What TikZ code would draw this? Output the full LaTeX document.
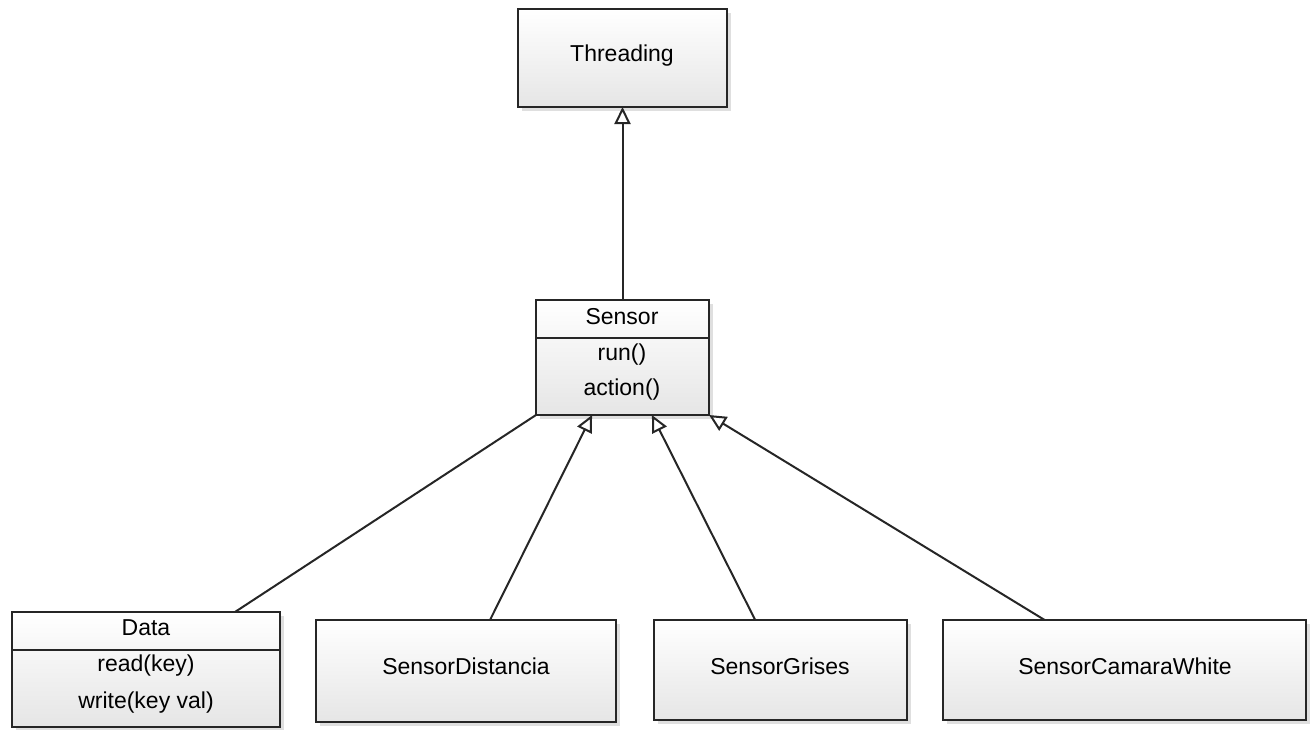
\documentclass[tikz,border=0pt]{standalone}
\usepackage{fontspec}
\setmainfont{Liberation Sans}
\usetikzlibrary{arrows.meta,shadows,calc}
\begin{document}
\begin{tikzpicture}[x=0.5pt,y=-0.5pt,
  cls/.style={draw=black!85, line width=1.1pt, top color=white, bottom color=black!10,
    drop shadow={opacity=0.25, shadow xshift=2pt, shadow yshift=-2pt},
    inner sep=0pt, outer sep=0pt, anchor=north west},
  lbl/.style={font=\fontsize{11.5}{13}\selectfont, inner sep=1pt},
  inherit/.style={draw=black!85, line width=1pt, -{Triangle[open, length=8.5pt, width=8pt, fill=white]}},
  assoc/.style={draw=black!85, line width=1pt}
]
\useasboundingbox (0,0) rectangle (1312,729);
% Threading
\node[cls, minimum width=104.5pt, minimum height=49pt] (threading) at (518,9) {};
\node[lbl] (threadingt) at (622,56) {Threading};
% Sensor
\node[cls, minimum width=86.5pt, minimum height=57.5pt] (sensor) at (536,300) {};
\draw[line width=1.1pt, black!85] (sensor.west |- 0,338) coordinate (sdl) -- (sensor.east |- 0,338) coordinate (sdr);
\node[lbl] (sensorname) at (622,317) {Sensor};
\node[lbl] (sensorrun) at (622,355) {run()};
\node[lbl] (sensoraction) at (622,390) {action()};
% Data
\node[cls, minimum width=134pt, minimum height=57.5pt] (data) at (12,612) {};
\draw[line width=1.1pt, black!85] (data.west |- 0,650) coordinate (ddl) -- (data.east |- 0,650) coordinate (ddr);
\node[lbl] (dataname) at (146,628) {Data};
\node[lbl] (dataread) at (146,666) {read(key)};
\node[lbl] (datawrite) at (146,703) {write(key val)};
% Sensors
\node[cls, minimum width=150pt, minimum height=51pt] (dist) at (316,620) {};
\node[lbl] (distt) at (466,666) {SensorDistancia};
\node[cls, minimum width=126.5pt, minimum height=50pt] (grises) at (654,620) {};
\node[lbl] (grisest) at (780,666) {SensorGrises};
\node[cls, minimum width=181.5pt, minimum height=50pt] (camara) at (943,620) {};
\node[lbl] (camarat) at (1125,666) {SensorCamaraWhite};
% connectors
\draw[inherit] (sensor.north) -- (threading.south);
\draw[assoc] ($(data.north west)!0.832!(data.north east)$) -- (sensor.south west);
\draw[inherit] ($(dist.north west)!0.58!(dist.north east)$) -- ($(sensor.south west)!0.324!(sensor.south east)$);
\draw[inherit] ($(grises.north west)!0.40!(grises.north east)$) -- ($(sensor.south west)!0.67!(sensor.south east)$);
\draw[inherit] ($(camara.north west)!0.28!(camara.north east)$) -- (sensor.south east);
\end{tikzpicture}
\end{document}
